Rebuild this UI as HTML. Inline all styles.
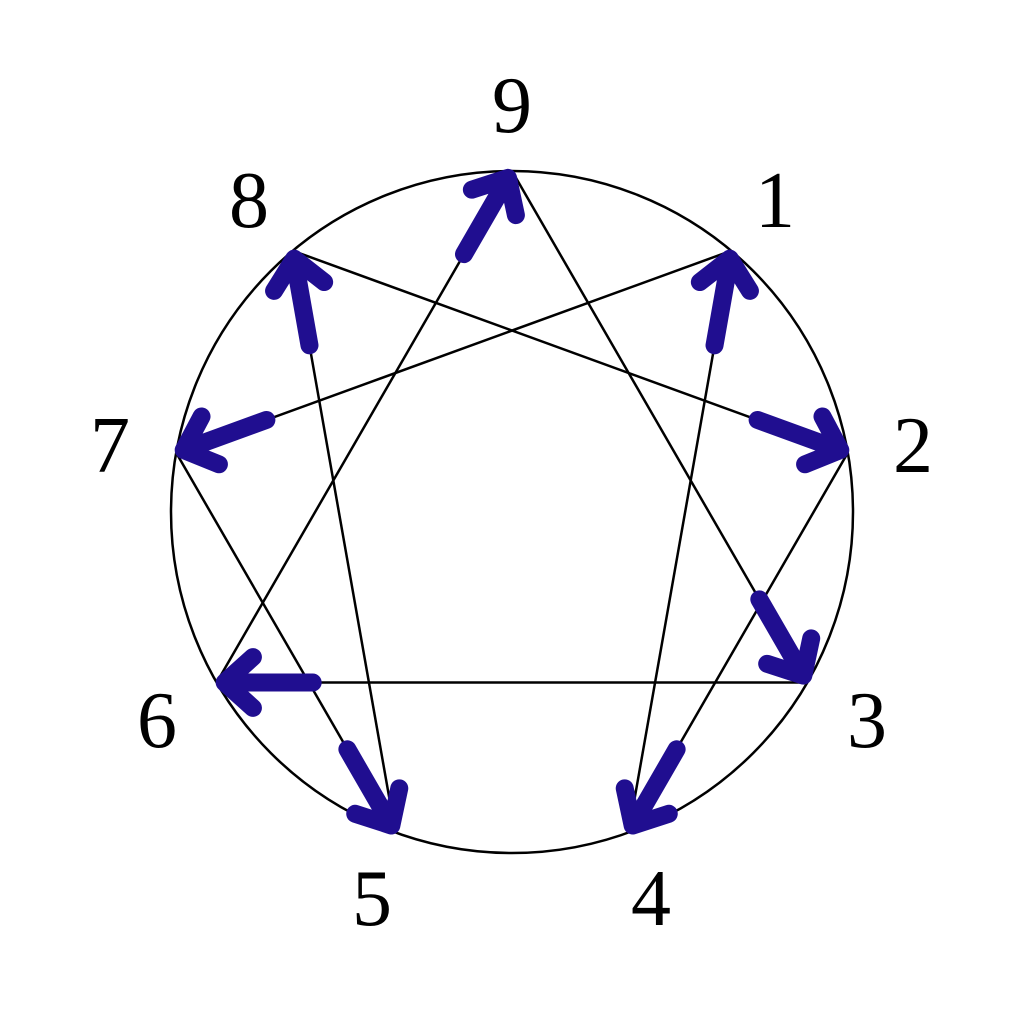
<!DOCTYPE html>
<html><head><meta charset="utf-8"><style>
html,body{margin:0;padding:0;background:#fff;}
svg{display:block}
text{font-family:"Liberation Serif",serif;font-size:80px;fill:#000;text-anchor:middle;dominant-baseline:central}
</style></head><body>
<svg id="s" width="1024" height="1024" viewBox="0 0 1024 1024">
<rect width="1024" height="1024" fill="#fff"/>
<circle cx="512" cy="512" r="341" fill="none" stroke="#000" stroke-width="2.5"/>
<g id="lines" stroke="#000" stroke-width="2.5" fill="none"></g>
<g id="arrows" stroke="#200e90" stroke-width="18" stroke-linecap="round" stroke-linejoin="round" fill="none"></g>
<text x="512" y="106">9</text>
<text x="775" y="201">1</text>
<text x="249" y="201">8</text>
<text x="913" y="446">2</text>
<text x="110" y="446">7</text>
<text x="867" y="721">3</text>
<text x="157" y="721">6</text>
<text x="372" y="899">5</text>
<text x="651" y="899">4</text>
</svg>
<script>
var P={};for(var k=0;k<=9;k++){var a=k*40*Math.PI/180;P[k%9]=[512+341*Math.sin(a),512-341*Math.cos(a)];}
P[9]=P[0];
var ns="http://www.w3.org/2000/svg";
function el(g,tag,at){var e=document.createElementNS(ns,tag);for(var n in at)e.setAttribute(n,at[n]);document.getElementById(g).appendChild(e);}
var L=[[9,3],[3,6],[6,9],[1,4],[4,2],[2,8],[8,5],[5,7],[7,1]];
L.forEach(function(l){var a=P[l[0]],b=P[l[1]];el("lines","line",{x1:a[0],y1:a[1],x2:b[0],y2:b[1]});});
var A=[[6,9],[4,1],[8,2],[9,3],[2,4],[7,5],[3,6],[1,7],[5,8]];
A.forEach(function(p){var f=P[p[0]],t=P[p[1]];var dx=t[0]-f[0],dy=t[1]-f[1],d=Math.hypot(dx,dy);var ux=dx/d,uy=dy/d;
var tx=t[0]-ux*8,ty=t[1]-uy*8;var sx=t[0]-ux*96,sy=t[1]-uy*96;
var ang=42*Math.PI/180,h=38;
function rot(c,s){return [-(ux*c-uy*s)*h,-(ux*s+uy*c)*h];}
var r1=rot(Math.cos(ang),Math.sin(ang)),r2=rot(Math.cos(-ang),Math.sin(-ang));
el("arrows","path",{d:"M"+sx+","+sy+"L"+tx+","+ty+"M"+(tx+r1[0])+","+(ty+r1[1])+"L"+tx+","+ty+"L"+(tx+r2[0])+","+(ty+r2[1])});});
</script>
</body></html>
